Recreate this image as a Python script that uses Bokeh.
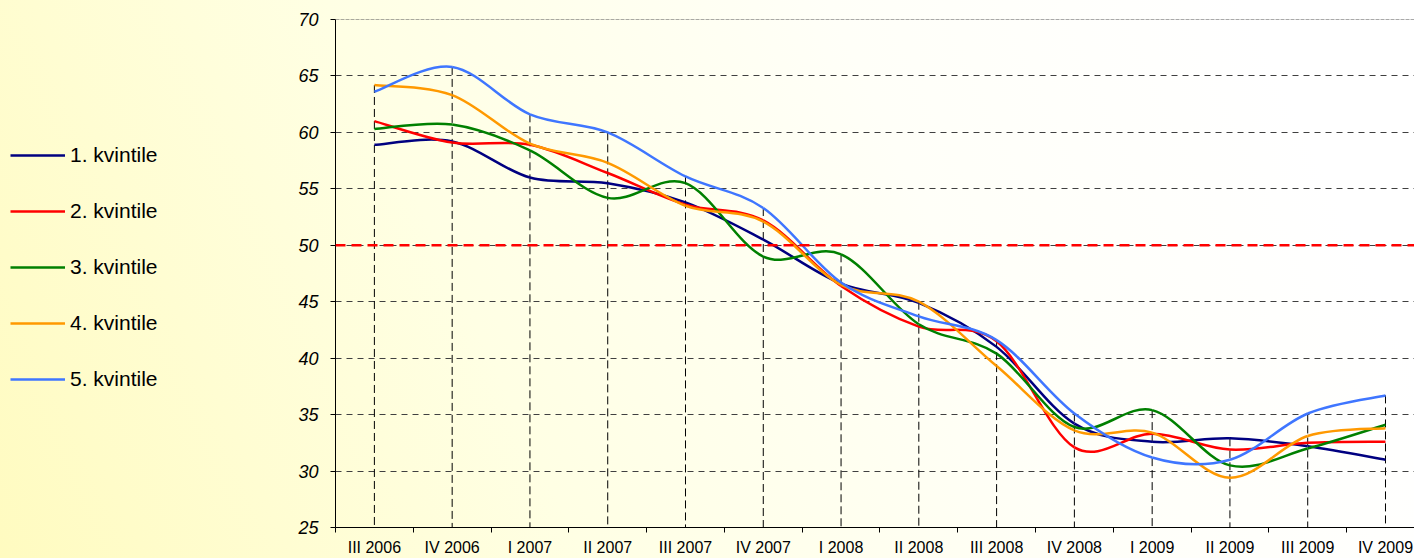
from bokeh.plotting import figure
from bokeh.layouts import row
from bokeh.models import Range1d, FixedTicker, Span, Legend, LegendItem
from bokeh.embed import file_html
from bokeh.resources import INLINE

categories = ["III 2006", "IV 2006", "I 2007", "II 2007", "III 2007", "IV 2007",
              "I 2008", "II 2008", "III 2008", "IV 2008", "I 2009", "II 2009",
              "III 2009", "IV 2009"]

q1 = [58.9, 59.2, 56.0, 55.5, 53.8, 50.5, 46.6, 44.9, 41.0, 34.2, 32.6, 32.9, 32.2, 31.0]
q2 = [61.0, 59.1, 58.9, 56.4, 53.6, 52.2, 46.4, 42.8, 41.5, 32.1, 33.3, 31.9, 32.5, 32.6]
q3 = [60.3, 60.7, 58.4, 54.2, 55.5, 49.0, 49.2, 43.0, 40.4, 33.9, 35.4, 30.5, 32.0, 34.1]
q4 = [64.2, 63.3, 59.0, 57.3, 53.5, 52.1, 46.5, 45.0, 39.3, 33.6, 33.4, 29.4, 33.1, 33.8]
q5 = [63.6, 65.8, 61.6, 60.0, 56.1, 53.3, 46.7, 43.7, 41.6, 35.1, 31.2, 31.0, 35.1, 36.7]

series_names = ["1. kvintile", "2. kvintile", "3. kvintile", "4. kvintile", "5. kvintile"]
series_colors = ["#000080", "#FF0000", "#008000", "#FF9900", "#3F76FF"]
series_values = [q1, q2, q3, q4, q5]

y_ticks = [25, 30, 35, 40, 45, 50, 55, 60, 65, 70]
grid_ticks = [30, 35, 40, 45, 50, 55, 60, 65]
threshold = 50
y_min, y_max = 25, 70

FONT = "Liberation Sans"
W_LEG = 288
W_MAIN = 1414 - W_LEG
H = 558

p = figure(width=W_MAIN, height=H,
           x_range=Range1d(-0.5, 13.373), y_range=Range1d(y_min, y_max),
           output_backend="svg", toolbar_location=None,
           min_border_left=47, min_border_right=0, min_border_top=19,
           min_border_bottom=30)
p.background_fill_color = None
p.border_fill_color = None
p.outline_line_color = None

# x axis
n = len(categories)
xs = list(range(n))
p.xaxis.ticker = FixedTicker(ticks=xs, minor_ticks=[i - 0.5 for i in range(n + 1)])
p.xaxis.major_label_overrides = {i: c for i, c in enumerate(categories)}
p.xaxis.major_tick_out = 0
p.xaxis.major_tick_in = 0
p.xaxis.minor_tick_out = 5
p.xaxis.minor_tick_in = 0
p.xaxis.minor_tick_line_color = "black"
p.xaxis.axis_line_color = "black"
p.xaxis.major_label_text_font = FONT
p.xaxis.major_label_text_font_size = "16px"
p.xaxis.major_label_text_color = "black"
p.xaxis.major_label_standoff = 6

# y axis
p.yaxis.ticker = FixedTicker(ticks=y_ticks)
p.yaxis.major_tick_out = 5
p.yaxis.major_tick_in = 0
p.yaxis.minor_tick_line_color = None
p.yaxis.axis_line_color = "black"
p.yaxis.major_tick_line_color = "black"
p.yaxis.major_label_text_font = FONT
p.yaxis.major_label_text_font_size = "18px"
p.yaxis.major_label_text_font_style = "italic"
p.yaxis.major_label_text_color = "black"
p.yaxis.major_label_standoff = 12

p.xgrid.visible = False
p.ygrid.ticker = FixedTicker(ticks=grid_ticks)
p.ygrid.grid_line_color = "#404040"
p.ygrid.grid_line_dash = "6 5"
p.ygrid.grid_line_width = 1

p.add_layout(Span(location=y_max, dimension="width", line_color="#555555",
                  line_width=1, line_dash="4 1"))

# drop lines from the highest value at each category
maxv = [max(v) for v in zip(*series_values)]
p.segment(x0=xs, y0=maxv, x1=xs, y1=[y_min] * n, line_color="black",
          line_width=1, line_dash="8 4")

# threshold line
p.add_layout(Span(location=threshold, dimension="width", line_color="#FF0000",
                  line_width=2.5, line_dash="10 6"))


def bezier_parts(vals):
    m = len(vals)
    out = dict(x0=[], y0=[], x1=[], y1=[], cx0=[], cy0=[], cx1=[], cy1=[])
    for i in range(m - 1):
        pi = i - 1 if i > 0 else i
        ni = i + 2 if i + 2 < m else i + 1
        out["x0"].append(i)
        out["y0"].append(vals[i])
        out["x1"].append(i + 1)
        out["y1"].append(vals[i + 1])
        out["cx0"].append(i + (i + 1 - pi) / 6)
        out["cy0"].append(vals[i] + (vals[i + 1] - vals[pi]) / 6)
        out["cx1"].append(i + 1 - (ni - i) / 6)
        out["cy1"].append(vals[i + 1] - (vals[ni] - vals[i]) / 6)
    return out


for name, col, vals in zip(series_names, series_colors, series_values):
    b = bezier_parts(vals)
    p.bezier(x0=b["x0"], y0=b["y0"], x1=b["x1"], y1=b["y1"],
             cx0=b["cx0"], cy0=b["cy0"], cx1=b["cx1"], cy1=b["cy1"],
             line_color=col, line_width=2.5)

# legend panel on the left (separate figure; its series lie outside its view)
lf = figure(width=W_LEG, height=H, x_range=Range1d(100, 101), y_range=Range1d(0, 1),
            x_axis_type=None, y_axis_type=None, output_backend="svg",
            toolbar_location=None, min_border=0)
lf.background_fill_color = None
lf.border_fill_color = None
lf.outline_line_color = None
lf.grid.visible = False

items = []
for name, col, vals in zip(series_names, series_colors, series_values):
    r = lf.line(x=xs, y=vals, line_color=col, line_width=2.5)
    items.append(LegendItem(label=name, renderers=[r]))

legend = Legend(items=items, location=(10, 136), padding=0, margin=0,
                glyph_width=55, glyph_height=24, label_height=24, spacing=32,
                label_standoff=5, label_text_font=FONT,
                label_text_font_size="21px", label_text_color="black",
                border_line_color=None, background_fill_alpha=0)
lf.add_layout(legend)

layout = row(lf, p)
layout.styles = {"background": "linear-gradient(65deg, #FFFBC0 0%, #FFFFE4 35%, #FFFFF8 65%, #FFFFFF 90%)"}

open("out.html", "w").write(file_html(layout, INLINE))
